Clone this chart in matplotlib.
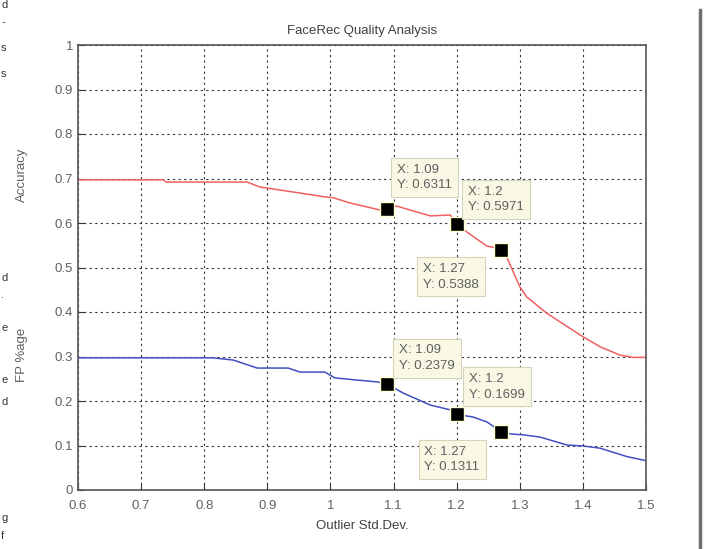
import matplotlib
matplotlib.use("Agg")
import matplotlib.pyplot as plt
from matplotlib.lines import Line2D

plt.rcParams["font.family"] = ["Liberation Sans", "DejaVu Sans"]

# Accuracy curve (red)
acc_x = [0.6, 0.735, 0.74, 0.868, 0.888, 0.995, 1.004, 1.031, 1.079, 1.09,
         1.105, 1.158, 1.19, 1.2, 1.216, 1.248, 1.26, 1.27, 1.28, 1.30,
         1.311, 1.343, 1.396, 1.427, 1.459, 1.48, 1.5]
acc_y = [0.697, 0.697, 0.692, 0.692, 0.681, 0.658, 0.657, 0.645, 0.629, 0.6311,
         0.638, 0.616, 0.618, 0.5971, 0.580, 0.548, 0.545, 0.5388, 0.521, 0.457,
         0.434, 0.397, 0.348, 0.322, 0.303, 0.298, 0.298]

# False positive curve (blue)
fp_x = [0.6, 0.814, 0.846, 0.884, 0.933, 0.952, 0.991, 1.007, 1.042, 1.074,
        1.09, 1.115, 1.158, 1.19, 1.2, 1.226, 1.248, 1.27, 1.285, 1.305,
        1.332, 1.375, 1.40, 1.427, 1.47, 1.5]
fp_y = [0.297, 0.297, 0.292, 0.274, 0.274, 0.265, 0.265, 0.252, 0.247, 0.243,
        0.2379, 0.218, 0.191, 0.180, 0.1699, 0.164, 0.153, 0.1311, 0.126, 0.124,
        0.119, 0.101, 0.099, 0.094, 0.075, 0.066]

# data tips: (x, y, text offset in points)
tips_x = [1.09, 1.2, 1.27, 1.09, 1.2, 1.27]
tips_y = [0.6311, 0.5971, 0.5388, 0.2379, 0.1699, 0.1311]
tips_off = [(7, 13), (8, 8), (-56, -29), (8.5, 9), (9, 10), (-55, -30)]

x_ticks = [0.6, 0.7, 0.8, 0.9, 1.0, 1.1, 1.2, 1.3, 1.4, 1.5]
x_tick_labels = ["0.6", "0.7", "0.8", "0.9", "1", "1.1", "1.2", "1.3", "1.4", "1.5"]
y_ticks = [0, 0.1, 0.2, 0.3, 0.4, 0.5, 0.6, 0.7, 0.8, 0.9, 1]
y_tick_labels = ["0", "0.1", "0.2", "0.3", "0.4", "0.5", "0.6", "0.7", "0.8", "0.9", "1"]

# word endings from the neighbouring text column
margin_chars = ["d", "-", "s", "s", "d", ".", "e", "e", "d", "g", "f"]
margin_y = [5, 22, 48, 74, 278, 295, 328, 380, 402, 518, 536]

W, H = 704, 549
fig = plt.figure(figsize=(W / 100, H / 100), dpi=100)
ax = fig.add_axes([78 / W, 1 - 490 / H, 568 / W, 445 / H])

grey = "#606060"
ax.plot(acc_x, acc_y, color="#f06060", lw=1.1)
ax.plot(fp_x, fp_y, color="#4050c0", lw=1.1)

for tx, ty, off in zip(tips_x, tips_y, tips_off):
    ax.plot(tx, ty, marker="s", ms=10.5, mfc="black", mec="#ffffd0", mew=1.0, ls="none", zorder=5)
    ax.annotate(f"X: {tx:g}\nY: {ty:.4f}", (tx, ty), xytext=off, textcoords="offset points",
                ha="left", va="bottom", fontsize=9.5, color=grey, linespacing=1.35,
                bbox=dict(boxstyle="square,pad=0.45", fc="#f8f8e4", ec="#d4d4bc", lw=0.8),
                zorder=6)

ax.set_xlim(0.6, 1.5)
ax.set_ylim(0, 1)
ax.set_xticks(x_ticks)
ax.set_xticklabels(x_tick_labels)
ax.set_yticks(y_ticks)
ax.set_yticklabels(y_tick_labels)
ax.tick_params(direction="in", length=4, labelsize=9.5, colors="#333333", labelcolor=grey)
ax.tick_params(axis="x", pad=7)
ax.grid(True, color="#333333", ls=(0, (2, 3)), lw=0.8)
for s in ax.spines.values():
    s.set_color("#555555")
    s.set_linewidth(1.2)

ax.set_title("FaceRec Quality Analysis", fontsize=9.5, color="#404040", pad=8)
ax.set_xlabel("Outlier Std.Dev.", fontsize=9.5, color="#404040", labelpad=6)

fig.text(22 / W, 1 - 175 / H, "Accuracy", rotation=90, ha="center", va="center",
         fontsize=9.5, color=grey)
fig.text(22 / W, 1 - 355 / H, "FP %age", rotation=90, ha="center", va="center",
         fontsize=9.5, color=grey)

for ch, yy in zip(margin_chars, margin_y):
    fig.text(1 / W, 1 - yy / H, ch, ha="left", va="center", fontsize=8, color="#333333")

fig.add_artist(Line2D([700 / W, 700 / W], [0, 1 - 10 / H], color="#707070", lw=2.5))

fig.savefig("out.png", dpi=100)
